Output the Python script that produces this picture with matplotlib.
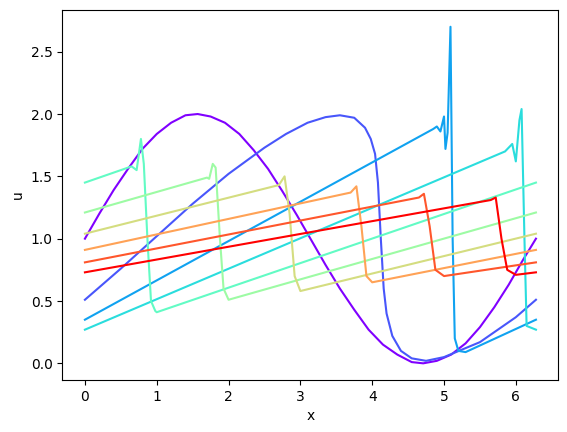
import matplotlib
matplotlib.use("Agg")
import matplotlib.pyplot as plt
import numpy as np

c0x=[0,0.2,0.4,0.6,0.8,1,1.2,1.4,1.57,1.75,1.95,2.15,2.35,2.55,2.75,2.95,3.15,3.35,3.55,3.75,3.95,4.15,4.35,4.55,4.71,4.9,5.1,5.3,5.5,5.7,5.9,6.1,6.28]
c0y=[1,1.2,1.39,1.56,1.72,1.84,1.93,1.99,2,1.98,1.93,1.84,1.71,1.56,1.38,1.19,0.99,0.79,0.6,0.43,0.27,0.15,0.07,0.01,0,0.02,0.07,0.16,0.29,0.45,0.63,0.83,1.0]
c1x=[0,0.5,1,1.5,2,2.5,2.8,3.1,3.35,3.55,3.75,3.9,3.98,4.04,4.08,4.12,4.16,4.2,4.28,4.4,4.55,4.75,5.0,5.5,6,6.28]
c1y=[0.51,0.76,1.02,1.28,1.52,1.73,1.84,1.93,1.975,1.99,1.97,1.89,1.8,1.68,1.45,1.0,0.6,0.4,0.22,0.1,0.04,0.02,0.05,0.17,0.37,0.51]
c2x=[0,4.85,4.9,4.95,5.0,5.02,5.05,5.09,5.12,5.15,5.2,5.3,6.28]
c2y=[0.35,1.88,1.9,1.86,1.98,1.72,1.85,2.7,1.0,0.2,0.1,0.09,0.35]
c3x=[0,5.85,5.95,6.0,6.05,6.08,6.12,6.15,6.28]
c3y=[0.27,1.7,1.76,1.62,1.95,2.04,1.0,0.3,0.27]
c4x=[0,0.65,0.72,0.78,0.82,0.87,0.92,0.98,1.0,6.28]
c4y=[1.45,1.58,1.55,1.8,1.6,1.0,0.5,0.42,0.41,1.45]
c5x=[0,1.7,1.73,1.78,1.82,1.88,1.93,2.0,6.28]
c5y=[1.21,1.49,1.48,1.6,1.57,1.0,0.6,0.51,1.21]
c6x=[0,2.7,2.78,2.85,2.92,3.0,6.28]
c6y=[1.04,1.43,1.5,1.2,0.7,0.58,1.04]
c7x=[0,3.7,3.78,3.85,3.92,4.0,6.28]
c7y=[0.91,1.37,1.42,1.1,0.7,0.65,0.91]
c8x=[0,4.65,4.72,4.8,4.88,5.0,6.28]
c8y=[0.81,1.33,1.36,1.1,0.75,0.7,0.81]
c9x=[0,5.65,5.72,5.8,5.88,6.0,6.28]
c9y=[0.73,1.31,1.33,1.0,0.75,0.71,0.73]

xs=[c0x,c1x,c2x,c3x,c4x,c5x,c6x,c7x,c8x,c9x]
ys=[c0y,c1y,c2y,c3y,c4y,c5y,c6y,c7y,c8y,c9y]
colors=plt.cm.rainbow(np.linspace(0,1,len(xs)))

fig,ax=plt.subplots(figsize=(5.67,4.32),dpi=100)
fig.subplots_adjust(left=0.11,right=0.985,top=0.977,bottom=0.12)
for x,y,c in zip(xs,ys,colors):
    ax.plot(x,y,color=c)
ax.set_xlabel("x")
ax.set_ylabel("u")
fig.savefig("out.png")
